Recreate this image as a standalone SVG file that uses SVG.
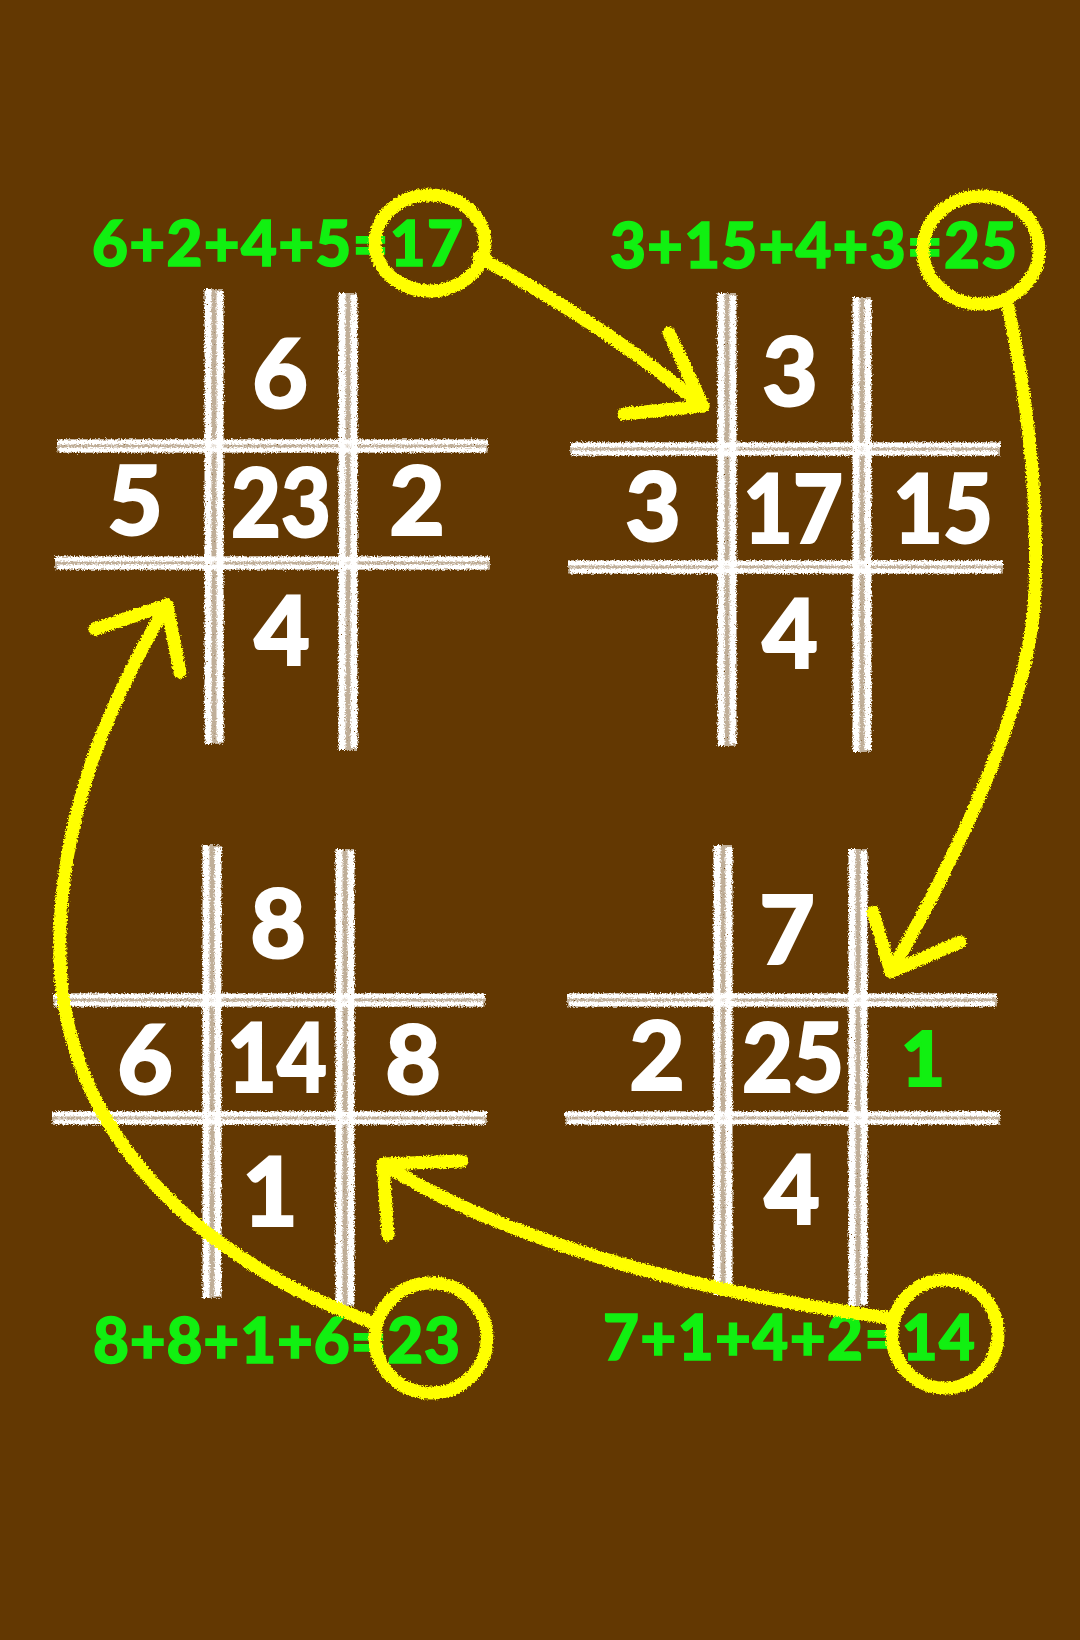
<svg xmlns="http://www.w3.org/2000/svg" width="1080" height="1640" viewBox="0 0 1080 1640">
<defs>
<filter id="chalk" filterUnits="userSpaceOnUse" x="0" y="0" width="1080" height="1640">
<feTurbulence type="fractalNoise" baseFrequency="0.7" numOctaves="2" seed="4" result="n"/>
<feDisplacementMap in="SourceGraphic" in2="n" scale="5" xChannelSelector="R" yChannelSelector="G" result="d"/>
<feTurbulence type="fractalNoise" baseFrequency="1.3" numOctaves="1" seed="9" result="t"/>
<feColorMatrix in="t" type="matrix" values="0 0 0 0 0  0 0 0 0 0  0 0 0 0 0  8 0 0 0 -5.6" result="holes"/>
<feComposite in="d" in2="holes" operator="out"/>
</filter>
<filter id="rough" filterUnits="userSpaceOnUse" x="0" y="0" width="1080" height="1640">
<feTurbulence type="fractalNoise" baseFrequency="0.6" numOctaves="2" seed="2" result="n"/>
<feDisplacementMap in="SourceGraphic" in2="n" scale="5" xChannelSelector="R" yChannelSelector="G"/>
</filter>
</defs>
<style>
.v{stroke:#fff;stroke-width:7;fill:none}
.vm{stroke:#fff;stroke-width:18;opacity:0.6;fill:none}
.h{stroke:#fff;stroke-width:5;fill:none}
.hm{stroke:#fff;stroke-width:13;opacity:0.6;fill:none}
.num{font-family:Lato,"Liberation Sans",sans-serif;font-weight:900;font-size:96px;fill:#fff;stroke:#fff;stroke-width:2;text-anchor:middle}
.eq{font-family:Lato,"Liberation Sans",sans-serif;font-weight:900;font-size:62px;fill:#11f011;stroke:#11f011;stroke-width:1.5}
.gn{fill:#11f011;stroke:#11f011;font-size:76px}
.yl{stroke:#ffff00;stroke-width:13;fill:none;stroke-linecap:round;stroke-linejoin:round}
</style>
<rect width="1080" height="1640" fill="#633802"/>

<g id="grid1">
<g filter="url(#chalk)">
<line class="vm" x1="214" y1="289" x2="214" y2="744"/>
<line class="v" x1="208" y1="289" x2="208" y2="744"/>
<line class="v" x1="220" y1="291" x2="220" y2="742"/>
<line class="vm" x1="348" y1="293" x2="348" y2="750"/>
<line class="v" x1="342" y1="293" x2="342" y2="750"/>
<line class="v" x1="354" y1="295" x2="354" y2="748"/>
<line class="hm" x1="57" y1="446" x2="488" y2="446"/>
<line class="h" x1="57" y1="442" x2="488" y2="442"/>
<line class="h" x1="59" y1="450" x2="486" y2="450"/>
<line class="hm" x1="55" y1="563" x2="490" y2="563"/>
<line class="h" x1="55" y1="559" x2="490" y2="559"/>
<line class="h" x1="57" y1="567" x2="488" y2="567"/>
</g>
<text class="num" x="280" y="408">6</text>
<text class="num" x="135" y="535">5</text>
<text class="num" x="281" y="537" textLength="100" lengthAdjust="spacingAndGlyphs">23</text>
<text class="num" x="417" y="535">2</text>
<text class="num" x="282" y="665">4</text>
<text class="eq" x="92" y="266" textLength="371" lengthAdjust="spacing">6+2+4+5=17</text>
<ellipse class="yl" cx="430" cy="243" rx="55" ry="48" filter="url(#rough)"/>
</g>

<g id="grid2">
<g filter="url(#chalk)">
<line class="vm" x1="727" y1="293" x2="727" y2="746"/>
<line class="v" x1="721" y1="293" x2="721" y2="746"/>
<line class="v" x1="733" y1="295" x2="733" y2="744"/>
<line class="vm" x1="862" y1="297" x2="862" y2="752"/>
<line class="v" x1="856" y1="297" x2="856" y2="752"/>
<line class="v" x1="868" y1="299" x2="868" y2="750"/>
<line class="hm" x1="570" y1="449" x2="1000" y2="449"/>
<line class="h" x1="570" y1="445" x2="1000" y2="445"/>
<line class="h" x1="572" y1="453" x2="998" y2="453"/>
<line class="hm" x1="568" y1="567" x2="1003" y2="567"/>
<line class="h" x1="568" y1="563" x2="1003" y2="563"/>
<line class="h" x1="570" y1="571" x2="1001" y2="571"/>
</g>
<text class="num" x="790" y="406">3</text>
<text class="num" x="653" y="541">3</text>
<text class="num" x="793" y="543" textLength="100" lengthAdjust="spacingAndGlyphs">17</text>
<text class="num" x="943" y="543" textLength="100" lengthAdjust="spacingAndGlyphs">15</text>
<text class="num" x="790" y="668">4</text>
<text class="eq" x="610" y="268" textLength="407" lengthAdjust="spacing">3+15+4+3=25</text>
<ellipse class="yl" cx="981" cy="250" rx="58" ry="54" filter="url(#rough)"/>
</g>

<g id="grid3">
<g filter="url(#chalk)">
<line class="vm" x1="212" y1="845" x2="212" y2="1298"/>
<line class="v" x1="206" y1="845" x2="206" y2="1298"/>
<line class="v" x1="218" y1="847" x2="218" y2="1296"/>
<line class="vm" x1="345" y1="849" x2="345" y2="1306"/>
<line class="v" x1="339" y1="849" x2="339" y2="1306"/>
<line class="v" x1="351" y1="851" x2="351" y2="1304"/>
<line class="hm" x1="53" y1="1000" x2="485" y2="1000"/>
<line class="h" x1="53" y1="996" x2="485" y2="996"/>
<line class="h" x1="55" y1="1004" x2="483" y2="1004"/>
<line class="hm" x1="52" y1="1118" x2="487" y2="1118"/>
<line class="h" x1="52" y1="1114" x2="487" y2="1114"/>
<line class="h" x1="54" y1="1122" x2="485" y2="1122"/>
</g>
<text class="num" x="278" y="958">8</text>
<text class="num" x="145" y="1094">6</text>
<text class="num" x="277" y="1092" textLength="100" lengthAdjust="spacingAndGlyphs">14</text>
<text class="num" x="413" y="1094">8</text>
<text class="num" x="270" y="1226">1</text>
<text class="eq" x="93" y="1363" textLength="367" lengthAdjust="spacing">8+8+1+6=23</text>
<ellipse class="yl" cx="431" cy="1338" rx="56" ry="55" filter="url(#rough)"/>
</g>

<g id="grid4">
<g filter="url(#chalk)">
<line class="vm" x1="723" y1="845" x2="723" y2="1295"/>
<line class="v" x1="717" y1="845" x2="717" y2="1295"/>
<line class="v" x1="729" y1="847" x2="729" y2="1293"/>
<line class="vm" x1="858" y1="849" x2="858" y2="1306"/>
<line class="v" x1="852" y1="849" x2="852" y2="1306"/>
<line class="v" x1="864" y1="851" x2="864" y2="1304"/>
<line class="hm" x1="567" y1="1000" x2="997" y2="1000"/>
<line class="h" x1="567" y1="996" x2="997" y2="996"/>
<line class="h" x1="569" y1="1004" x2="995" y2="1004"/>
<line class="hm" x1="565" y1="1118" x2="1000" y2="1118"/>
<line class="h" x1="565" y1="1114" x2="1000" y2="1114"/>
<line class="h" x1="567" y1="1122" x2="998" y2="1122"/>
</g>
<text class="num" x="787" y="964">7</text>
<text class="num" x="657" y="1090">2</text>
<text class="num" x="793" y="1092" textLength="102" lengthAdjust="spacingAndGlyphs">25</text>
<text class="num gn" x="923" y="1086">1</text>
<text class="num" x="792" y="1224">4</text>
<text class="eq" x="603" y="1360" textLength="372" lengthAdjust="spacing">7+1+4+2=14</text>
<ellipse class="yl" cx="945" cy="1334" rx="53" ry="54" filter="url(#rough)"/>
</g>

<g id="connectors" filter="url(#rough)">
<path class="yl" d="M479,257 C530,285 610,330 703,406"/>
<path class="yl" d="M669,333 L703,406 L624,414"/>
<path class="yl" d="M1008,306 C1028,400 1038,500 1035,590 C1032,700 960,850 891,972"/>
<path class="yl" d="M873,912 L891,972 L960,942"/>
<path class="yl" d="M890,1318 C720,1295 520,1250 383,1164"/>
<path class="yl" d="M462,1161 L383,1164 L388,1235"/>
<path class="yl" d="M372,1322 C200,1262 64,1130 60,960 C56,820 110,700 167,605"/>
<path class="yl" d="M95,629 L167,605 L180,672"/>
</g>
</svg>
